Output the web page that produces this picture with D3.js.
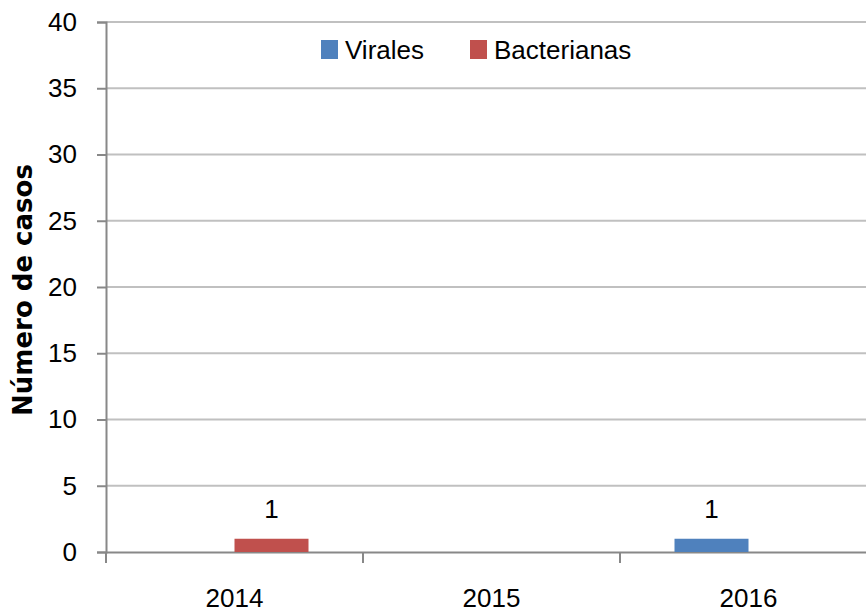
<!DOCTYPE html>
<html>
<head>
<meta charset="utf-8">
<script src="https://cdn.jsdelivr.net/npm/d3@7"></script>
<style>
  body { margin: 0; background: white; }
  text { font-family: "Liberation Sans Narrow", "Liberation Sans", sans-serif; }
</style>
</head>
<body>
<div id="chart"></div>
<script>
var years = ["2014", "2015", "2016"]
var series = ["Virales", "Bacterianas"]
var virales = [0, 0, 1]
var bacterianas = [1, 0, 0]
var yTicks = [0, 5, 10, 15, 20, 25, 30, 35, 40]
var colors = ["#4F81BD", "#C0504D"]

var width = 866
var height = 615
var plotLeft = 106
var plotRight = 877
var plotTop = 22
var plotBottom = 552
var barW = 74
var fontSize = "26px"

var svg = d3.select("#chart").append("svg")
	.attr("width", width)
	.attr("height", height)

var x = d3.scaleBand().domain(years).range([plotLeft, plotRight]).padding(0)
var y = d3.scaleLinear().domain([0, 40]).range([plotBottom, plotTop])
var xs = d3.scaleBand().domain(series).range([-barW, barW]).padding(0)
var color = d3.scaleOrdinal().domain(series).range(colors)

// gridlines
svg.append("g")
	.selectAll("line")
	.data(yTicks.filter(function (d) { return d > 0 }))
	.enter().append("line")
	.attr("x1", plotLeft).attr("x2", width)
	.attr("y1", function (d) { return y(d) }).attr("y2", function (d) { return y(d) })
	.style("stroke", "#c0c0c0").style("stroke-width", 2)

// y axis
var yAxis = svg.append("g")
	.attr("transform", "translate(" + plotLeft + ",0)")
	.call(d3.axisLeft(y).tickValues(yTicks).tickSize(9).tickPadding(20))
yAxis.select(".domain").style("stroke", "#888").style("stroke-width", 2)
yAxis.selectAll(".tick line").style("stroke", "#888").style("stroke-width", 2)
yAxis.selectAll(".tick text")
	.style("font-size", fontSize).style("fill", "#000")
	.style("font-family", "'Liberation Sans Narrow', 'Liberation Sans', sans-serif")

// x axis
var xAxis = svg.append("g")
	.attr("transform", "translate(0," + plotBottom + ")")
	.call(d3.axisBottom(x).tickSize(0).tickPadding(37))
xAxis.select(".domain").style("stroke", "#888").style("stroke-width", 2)
xAxis.selectAll(".tick text")
	.style("font-size", fontSize).style("fill", "#000")
	.style("font-family", "'Liberation Sans Narrow', 'Liberation Sans', sans-serif")
xAxis.selectAll(".edge")
	.data(years.map(function (d) { return x(d) }).concat([plotRight]))
	.enter().append("line")
	.attr("class", "edge")
	.attr("x1", function (d) { return d }).attr("x2", function (d) { return d })
	.attr("y1", 0).attr("y2", 11)
	.style("stroke", "#888").style("stroke-width", 2)

// bars
var rows = []
years.forEach(function (yr, i) {
	rows.push({ year: yr, s: "Virales", v: virales[i] })
	rows.push({ year: yr, s: "Bacterianas", v: bacterianas[i] })
})
var shown = rows.filter(function (d) { return d.v > 0 })

svg.append("g").selectAll("rect")
	.data(shown)
	.enter().append("rect")
	.attr("x", function (d) { return x(d.year) + x.bandwidth() / 2 + xs(d.s) })
	.attr("y", function (d) { return y(d.v) })
	.attr("width", xs.bandwidth())
	.attr("height", function (d) { return y(0) - y(d.v) })
	.style("fill", function (d) { return color(d.s) })

svg.append("g").selectAll("text")
	.data(shown)
	.enter().append("text")
	.attr("x", function (d) { return x(d.year) + x.bandwidth() / 2 + xs(d.s) + xs.bandwidth() / 2 })
	.attr("y", function (d) { return y(d.v) - 21 })
	.attr("text-anchor", "middle")
	.style("font-size", fontSize)
	.text(function (d) { return d.v })

// y title
svg.append("text")
	.attr("transform", "translate(32,290) rotate(-90)")
	.attr("text-anchor", "middle")
	.style("font-family", "'DejaVu Sans', sans-serif")
	.style("font-weight", "bold")
	.style("font-size", "26px")
	.text("Número de casos")

// legend
var legendX = [321, 470]
var legend = svg.append("g").selectAll("g")
	.data(series)
	.enter().append("g")
	.attr("transform", function (d, i) { return "translate(" + legendX[i] + ",40)" })
legend.append("rect")
	.attr("width", 17).attr("height", 19)
	.style("fill", function (d) { return color(d) })
legend.append("text")
	.attr("x", 24).attr("y", 19)
	.style("font-size", fontSize)
	.text(function (d) { return d })
</script>
</body>
</html>
